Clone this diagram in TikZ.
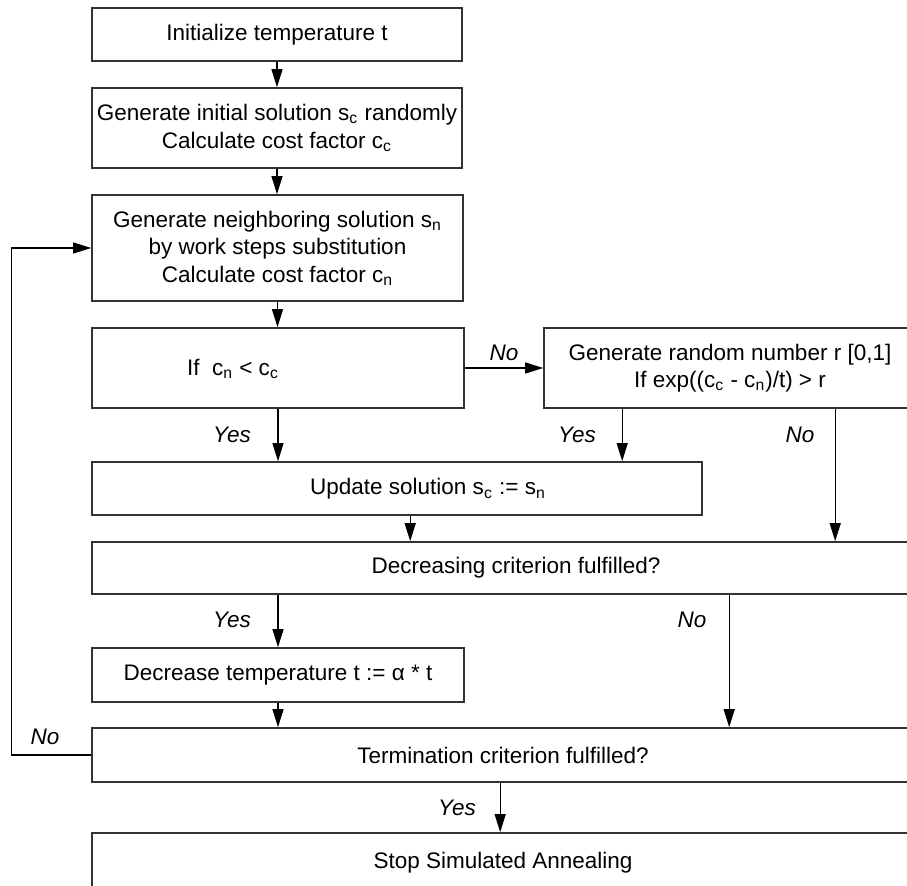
\documentclass[tikz,border=0pt]{standalone}
\usepackage{fontspec}
\setmainfont{Liberation Sans}
\usetikzlibrary{arrows.meta}
\definecolor{frame}{rgb}{0.2,0.2,0.2}

\begin{document}
\begin{tikzpicture}[x=0.5pt, y=-0.5pt,
  font=\fontsize{11.25}{13.75}\selectfont,
  box/.style={draw=frame, line width=0.8pt, inner sep=0pt, align=center},
  arr/.style={line width=0.55pt, -{Triangle[length=9pt, width=5.5pt]}},
  lbl/.style={font=\fontsize{11.25}{13.75}\selectfont\itshape}]
\useasboundingbox (0,0) rectangle (907,886);
\clip (0,0) rectangle (907,886);
\node [box, minimum width=185pt, minimum height=26.5pt] (init) at (277,34.5) {Initialize temperature t};
\node [box, minimum width=185pt, minimum height=40pt] (gen) at (277,128) {Generate initial solution s\textsubscript{c} randomly\\Calculate cost factor c\textsubscript{c}};
\node [box, minimum width=185.5pt, minimum height=53pt] (neigh) at (277.5,248) {Generate neighboring solution s\textsubscript{n}\\by work steps substitution\\Calculate cost factor c\textsubscript{n}};
\node [box, minimum width=186pt, minimum height=40pt] (cond) at (278,368) {};
\node (condtxt) at (233,369) {If\ \ c\textsubscript{n} < c\textsubscript{c}};
\node [box, minimum width=186pt, minimum height=40pt] (rand) at (730,368) {Generate random number r [0,1]\\If exp((c\textsubscript{c} - c\textsubscript{n})/t) > r};
\node [box, minimum width=305pt, minimum height=26.5pt] (upd) at (397,488.5) {};
\node (updtxt) at (428,489) {Update solution s\textsubscript{c} := s\textsubscript{n}};
\node [box, minimum width=424pt, minimum height=26pt] (decr) at (516,568) {Decreasing criterion fulfilled?};
\node [box, minimum width=186pt, minimum height=27pt] (dect) at (278,675) {Decrease temperature t := α * t};
\node [box, minimum width=411pt, minimum height=27pt] (term) at (503,755) {Termination criterion fulfilled?};
\node [box, minimum width=411pt, minimum height=30pt] (stop) at (503,863) {Stop Simulated Annealing};

\draw [arr] (init.south) -- (init.south |- gen.north);
\draw [arr] (gen.south) -- (gen.south |- neigh.north);
\draw [arr] (neigh.south) -- (neigh.south |- cond.north);
\draw [arr] (cond.east) -- (rand.west) node [lbl, midway, above] (no1) {No};
\draw [arr] (cond.south) -- (cond.south |- upd.north);
\draw [arr] ([xshift=39.5pt]rand.south west) coordinate (r1) -- (r1 |- upd.north);
\draw [arr] ([xshift=146pt]rand.south west) coordinate (r2) -- (r2 |- decr.north);
\draw [arr] ([xshift=159.5pt]upd.south west) coordinate (u1) -- (u1 |- decr.north);
\draw [arr] (dect.north |- decr.south) -- (dect.north);
\draw [arr] ([xshift=319pt]decr.south west) coordinate (d1) -- (d1 |- term.north);
\draw [arr] (dect.south) -- (dect.south |- term.north);
\draw [arr] ([xshift=204.5pt]term.south west) coordinate (t1) -- (t1 |- stop.north);
\draw [arr] (term.west) -- ++(-80,0) |- (neigh.west);

\node [lbl] (yes1) at (232,435) {Yes};
\node [lbl] (yes2) at (577,435) {Yes};
\node [lbl] (no2) at (800,435) {No};
\node [lbl] (yes3) at (232,620) {Yes};
\node [lbl] (no3) at (692,620) {No};
\node [lbl] (no4) at (45,737) {No};
\node [lbl] (yes4) at (457,808) {Yes};
\end{tikzpicture}
\end{document}
